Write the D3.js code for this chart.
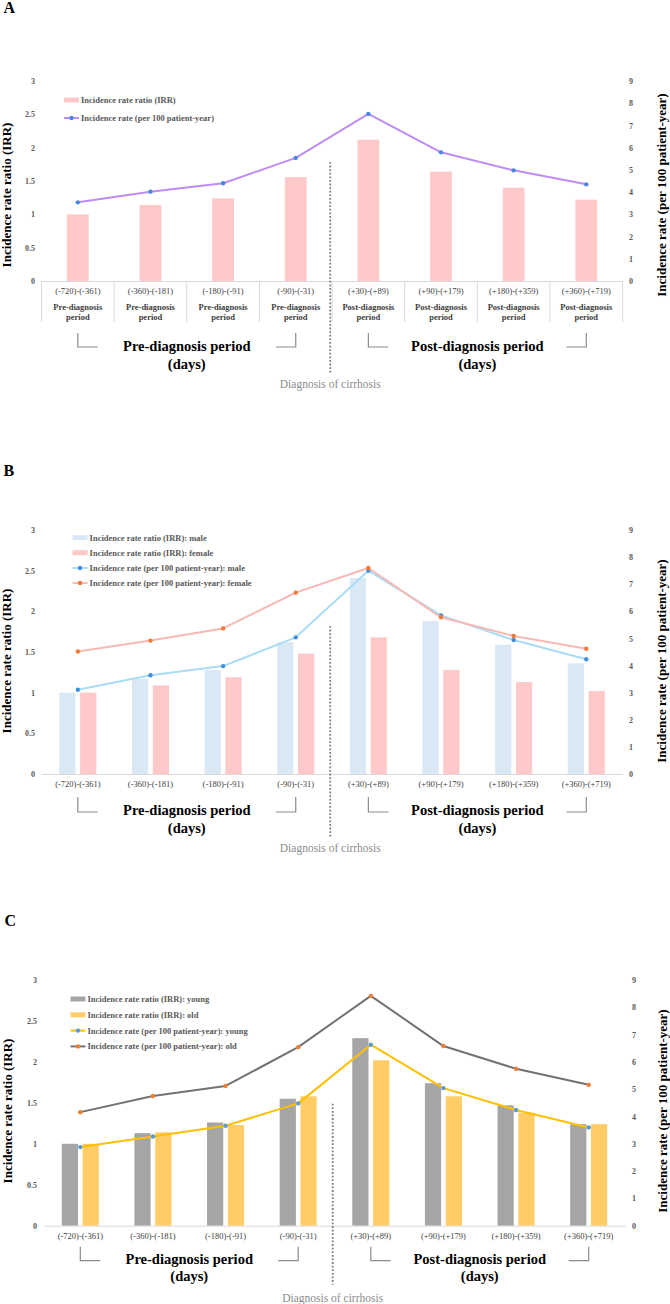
<!DOCTYPE html>
<html><head><meta charset="utf-8">
<script src="https://cdn.jsdelivr.net/npm/d3@7"></script>
<style>
body{margin:0;background:#fff}
svg{display:block}
text{font-family:"Liberation Serif","Times New Roman",serif}
</style>
</head><body>
<svg id="c" width="670" height="1304"></svg>
<script>
// ---------- data ----------
const categories = ["(-720)-(-361)", "(-360)-(-181)", "(-180)-(-91)", "(-90)-(-31)",
                    "(+30)-(+89)", "(+90)-(+179)", "(+180)-(+359)", "(+360)-(+719)"];
const periodRow = ["Pre-diagnosis", "Pre-diagnosis", "Pre-diagnosis", "Pre-diagnosis",
                   "Post-diagnosis", "Post-diagnosis", "Post-diagnosis", "Post-diagnosis"];
const leftTicks = [0, 0.5, 1, 1.5, 2, 2.5, 3];
const rightTicks = [0, 1, 2, 3, 4, 5, 6, 7, 8, 9];

// Panel A
const irrAll  = [1.00, 1.14, 1.24, 1.56, 2.12, 1.64, 1.40, 1.22];
const rateAll = [3.54, 4.02, 4.40, 5.54, 7.52, 5.79, 4.98, 4.35];
// Panel B
const irrMale    = [1.00, 1.17, 1.28, 1.62, 2.41, 1.88, 1.59, 1.36];
const irrFemale  = [1.00, 1.09, 1.19, 1.48, 1.68, 1.28, 1.13, 1.02];
const rateMale   = [3.11, 3.64, 3.98, 5.04, 7.50, 5.85, 4.94, 4.23];
const rateFemale = [4.52, 4.92, 5.37, 6.69, 7.60, 5.78, 5.09, 4.62];
// Panel C
const irrYoung  = [1.00, 1.13, 1.26, 1.55, 2.29, 1.74, 1.47, 1.24];
const irrOld    = [1.00, 1.14, 1.23, 1.58, 2.02, 1.58, 1.38, 1.24];
const rateYoung = [2.88, 3.27, 3.66, 4.48, 6.63, 5.04, 4.24, 3.60];
const rateOld   = [4.16, 4.75, 5.12, 6.54, 8.42, 6.58, 5.75, 5.16];

const leftTitle = "Incidence rate ratio (IRR)";
const rightTitle = "Incidence rate (per 100 patient-year)";
const preLabel = ["Pre-diagnosis period", "(days)"];
const postLabel = ["Post-diagnosis period", "(days)"];
const diagLabel = "Diagnosis of cirrhosis";

// ---------- drawing ----------
const svg = d3.select("#c");
svg.append("rect").attr("width", 670).attr("height", 1304).attr("fill", "#fff");

function panel(cfg) {
  const g = svg.append("g");
  const x = d3.scaleBand().domain(categories).range([cfg.x0, cfg.x1]);
  const yL = d3.scaleLinear().domain([0, 3]).range([cfg.yZero, cfg.yTop]);
  const yR = d3.scaleLinear().domain([0, 9]).range([cfg.yZero, cfg.yTop]);
  const cx = c => x(c) + x.bandwidth() / 2;

  // panel letter
  g.append("text").attr("x", cfg.letterX).attr("y", cfg.letterY)
    .attr("font-size", 16).attr("font-weight", "bold").attr("fill", "#000").text(cfg.letter);

  // left axis labels
  const axL = g.append("g").attr("transform", `translate(${cfg.leftLabelX},0)`)
    .call(d3.axisLeft(yL).tickValues(leftTicks).tickSize(0).tickPadding(0).tickFormat(d => d));
  axL.select(".domain").remove();
  axL.attr("font-family", null).attr("font-size", 8);
  axL.selectAll("text").attr("fill", "#595959").attr("font-weight", "bold");

  // right axis labels
  const axR = g.append("g").attr("transform", `translate(${cfg.rightLabelX},0)`)
    .call(d3.axisRight(yR).tickValues(rightTicks).tickSize(0).tickPadding(0).tickFormat(d => d));
  axR.select(".domain").remove();
  axR.attr("font-family", null).attr("font-size", 8);
  axR.selectAll("text").attr("fill", "#595959").attr("font-weight", "bold");

  // axis titles
  const midY = cfg.titleY;
  g.append("text").attr("transform", `translate(${cfg.leftTitleX},${midY}) rotate(-90)`)
    .attr("text-anchor", "middle").attr("dominant-baseline", "central")
    .attr("font-size", 13).attr("font-weight", "bold").attr("fill", "#000").text(leftTitle);
  g.append("text").attr("transform", `translate(${cfg.rightTitleX},${midY}) rotate(-90)`)
    .attr("text-anchor", "middle").attr("dominant-baseline", "central")
    .attr("font-size", 13).attr("font-weight", "bold").attr("fill", "#000").text(rightTitle);

  // bars
  const keys = cfg.bars.map((b, i) => i);
  const gw = x.bandwidth() * cfg.groupFrac;
  const sub = d3.scaleBand().domain(keys).range([-gw / 2, gw / 2]).paddingInner(keys.length > 1 ? 0.221 : 0);
  cfg.bars.forEach((b, i) => {
    g.append("g").selectAll("rect").data(b.values).join("rect")
      .attr("x", (d, j) => cx(categories[j]) + sub(i))
      .attr("width", sub.bandwidth())
      .attr("y", d => yL(d))
      .attr("height", d => yL(0) - yL(d))
      .attr("fill", b.color);
  });

  // x axis (baseline + category labels)
  const axB = g.append("g").attr("transform", `translate(0,${cfg.yZero})`)
    .call(d3.axisBottom(x).tickSize(0).tickSizeOuter(0).tickPadding(0));
  axB.select(".domain").attr("stroke", "#d9d9d9").attr("stroke-width", 1);
  axB.attr("font-family", null).attr("font-size", 8.5);
  axB.selectAll("text").attr("y", 10).attr("dy", "0.35em").attr("fill", "#404040");

  // table under axis (panel A)
  if (cfg.table) {
    const edges = categories.map(c => x(c)).concat([cfg.x1]);
    g.append("g").selectAll("line").data(edges).join("line")
      .attr("x1", d => d).attr("x2", d => d)
      .attr("y1", cfg.yZero).attr("y2", cfg.yZero + 41)
      .attr("stroke", "#d9d9d9").attr("stroke-width", 1);
    const t = g.append("g");
    t.selectAll("text.r1").data(categories).join("text").attr("class", "r1")
      .attr("x", c => cx(c)).attr("y", cfg.yZero + 26).attr("dy", "0.35em")
      .attr("text-anchor", "middle").attr("font-size", 8.5).attr("font-weight", "bold")
      .attr("fill", "#404040").text((c, j) => periodRow[j]);
    t.selectAll("text.r2").data(categories).join("text").attr("class", "r2")
      .attr("x", c => cx(c)).attr("y", cfg.yZero + 36).attr("dy", "0.35em")
      .attr("text-anchor", "middle").attr("font-size", 8.5).attr("font-weight", "bold")
      .attr("fill", "#404040").text("period");
  }

  // lines
  cfg.lines.forEach(L => {
    const line = d3.line().x((d, j) => cx(categories[j])).y(d => yR(d));
    g.append("path").datum(L.values).attr("d", line)
      .attr("fill", "none").attr("stroke", L.color).attr("stroke-width", 2)
      .attr("stroke-linejoin", "round");
    g.append("g").selectAll("circle").data(L.values).join("circle")
      .attr("cx", (d, j) => cx(categories[j])).attr("cy", d => yR(d))
      .attr("r", 2.2).attr("fill", L.dot);
  });

  // diagnosis dotted line
  const dx = x(categories[4]) - 1.8;
  g.append("line").attr("x1", dx).attr("x2", dx)
    .attr("y1", cfg.yZero + cfg.dotTop).attr("y2", cfg.yZero + cfg.dotBottom)
    .attr("stroke", "#7f7f7f").attr("stroke-width", 1.8).attr("stroke-dasharray", "1.8,1.8");
  g.append("text").attr("x", dx).attr("y", cfg.yZero + cfg.diagDy).attr("dy", "0.35em")
    .attr("text-anchor", "middle").attr("font-size", 11.5).attr("fill", "#8c8c8c").text(diagLabel);

  // brackets + period titles
  const bt = cfg.yZero + cfg.brTop, bb = cfg.yZero + cfg.brBottom, arm = 20;
  const brackets = [
    [cx(categories[0]), 1], [cx(categories[3]), -1],
    [cx(categories[4]), 1], [cx(categories[7]), -1]
  ];
  g.append("g").selectAll("path").data(brackets).join("path")
    .attr("d", d => `M${d[0]},${bt}V${bb}H${d[0] + d[1] * arm}`)
    .attr("fill", "none").attr("stroke", "#8c8c8c").attr("stroke-width", 1.2);
  const groups = [
    [(cx(categories[0]) + cx(categories[3])) / 2, preLabel],
    [(cx(categories[4]) + cx(categories[7])) / 2, postLabel]
  ];
  groups.forEach(([gx, lab]) => {
    lab.forEach((s, k) => {
      g.append("text").attr("x", gx).attr("y", cfg.yZero + cfg.bigDy + k * 17.5).attr("dy", "0.35em")
        .attr("text-anchor", "middle").attr("font-size", 14.5).attr("font-weight", "bold")
        .attr("fill", "#000").text(s);
    });
  });

  // legend
  const lg = g.append("g");
  cfg.legend.forEach((e, k) => {
    const ly = cfg.legendY[k];
    if (e.type === "bar") {
      lg.append("rect").attr("x", cfg.legendX).attr("y", ly - 2.5).attr("width", 15).attr("height", 5)
        .attr("fill", e.color);
    } else {
      lg.append("line").attr("x1", cfg.legendX).attr("x2", cfg.legendX + 15)
        .attr("y1", ly).attr("y2", ly).attr("stroke", e.color).attr("stroke-width", 2);
      lg.append("circle").attr("cx", cfg.legendX + 7.5).attr("cy", ly).attr("r", 2.2).attr("fill", e.dot);
    }
    lg.append("text").attr("x", cfg.legendX + 17).attr("y", ly).attr("dy", "0.35em")
      .attr("font-size", 8.5).attr("font-weight", "bold").attr("fill", "#595959").text(e.label);
  });
}

// Panel A
panel({
  letter: "A", letterX: 3.5, letterY: 13,
  x0: 41.5, x1: 622.6, yTop: 81, yZero: 281,
  leftLabelX: 35, rightLabelX: 629, leftTitleX: 6.5, rightTitleX: 661.5, titleY: 195,
  groupFrac: 0.3,
  bars: [{ values: irrAll, color: "#ffc9c9" }],
  lines: [{ values: rateAll, color: "#bf8cf7", dot: "#4a86e0" }],
  table: true,
  dotTop: -119, dotBottom: 92, diagDy: 103,
  brTop: 52, brBottom: 66, bigDy: 65,
  legendX: 64, legendY: [100, 118],
  legend: [
    { type: "bar", color: "#ffc9c9", label: "Incidence rate ratio (IRR)" },
    { type: "line", color: "#bf8cf7", dot: "#4a86e0", label: "Incidence rate (per 100 patient-year)" }
  ]
});

// Panel B
panel({
  letter: "B", letterX: 3.5, letterY: 475.5,
  x0: 41.5, x1: 622.6, yTop: 530, yZero: 774,
  leftLabelX: 35, rightLabelX: 629, leftTitleX: 6, rightTitleX: 661.5, titleY: 661,
  groupFrac: 0.51,
  bars: [{ values: irrMale, color: "#dae8f5" }, { values: irrFemale, color: "#ffc9c9" }],
  lines: [
    { values: rateMale, color: "#a9dcf5", dot: "#3f8fdc" },
    { values: rateFemale, color: "#f8b8b4", dot: "#ef7a3a" }
  ],
  table: false,
  dotTop: -148, dotBottom: 64, diagDy: 74,
  brTop: 23, brBottom: 38, bigDy: 36,
  legendX: 72.6, legendY: [537.7, 552.7, 568, 583],
  legend: [
    { type: "bar", color: "#dae8f5", label: "Incidence rate ratio (IRR): male" },
    { type: "bar", color: "#ffc9c9", label: "Incidence rate ratio (IRR): female" },
    { type: "line", color: "#a9dcf5", dot: "#3f8fdc", label: "Incidence rate (per 100 patient-year): male" },
    { type: "line", color: "#f8b8b4", dot: "#ef7a3a", label: "Incidence rate (per 100 patient-year): female" }
  ]
});

// Panel C
panel({
  letter: "C", letterX: 4.5, letterY: 926,
  x0: 44, x1: 625, yTop: 980, yZero: 1225.7,
  leftLabelX: 37, rightLabelX: 632, leftTitleX: 7.5, rightTitleX: 662.5, titleY: 1111,
  groupFrac: 0.51,
  bars: [{ values: irrYoung, color: "#a5a5a5" }, { values: irrOld, color: "#ffcc66" }],
  lines: [
    { values: rateYoung, color: "#ffc000", dot: "#5b9bd5" },
    { values: rateOld, color: "#767171", dot: "#ed7d31" }
  ],
  table: false,
  dotTop: -122, dotBottom: 59, diagDy: 72,
  brTop: 21, brBottom: 35, bigDy: 33,
  legendX: 70.5, legendY: [999, 1014.8, 1030.6, 1046.4],
  legend: [
    { type: "bar", color: "#a5a5a5", label: "Incidence rate ratio (IRR): young" },
    { type: "bar", color: "#ffcc66", label: "Incidence rate ratio (IRR): old" },
    { type: "line", color: "#ffc000", dot: "#5b9bd5", label: "Incidence rate (per 100 patient-year): young" },
    { type: "line", color: "#767171", dot: "#ed7d31", label: "Incidence rate (per 100 patient-year): old" }
  ]
});
</script>
</body></html>
